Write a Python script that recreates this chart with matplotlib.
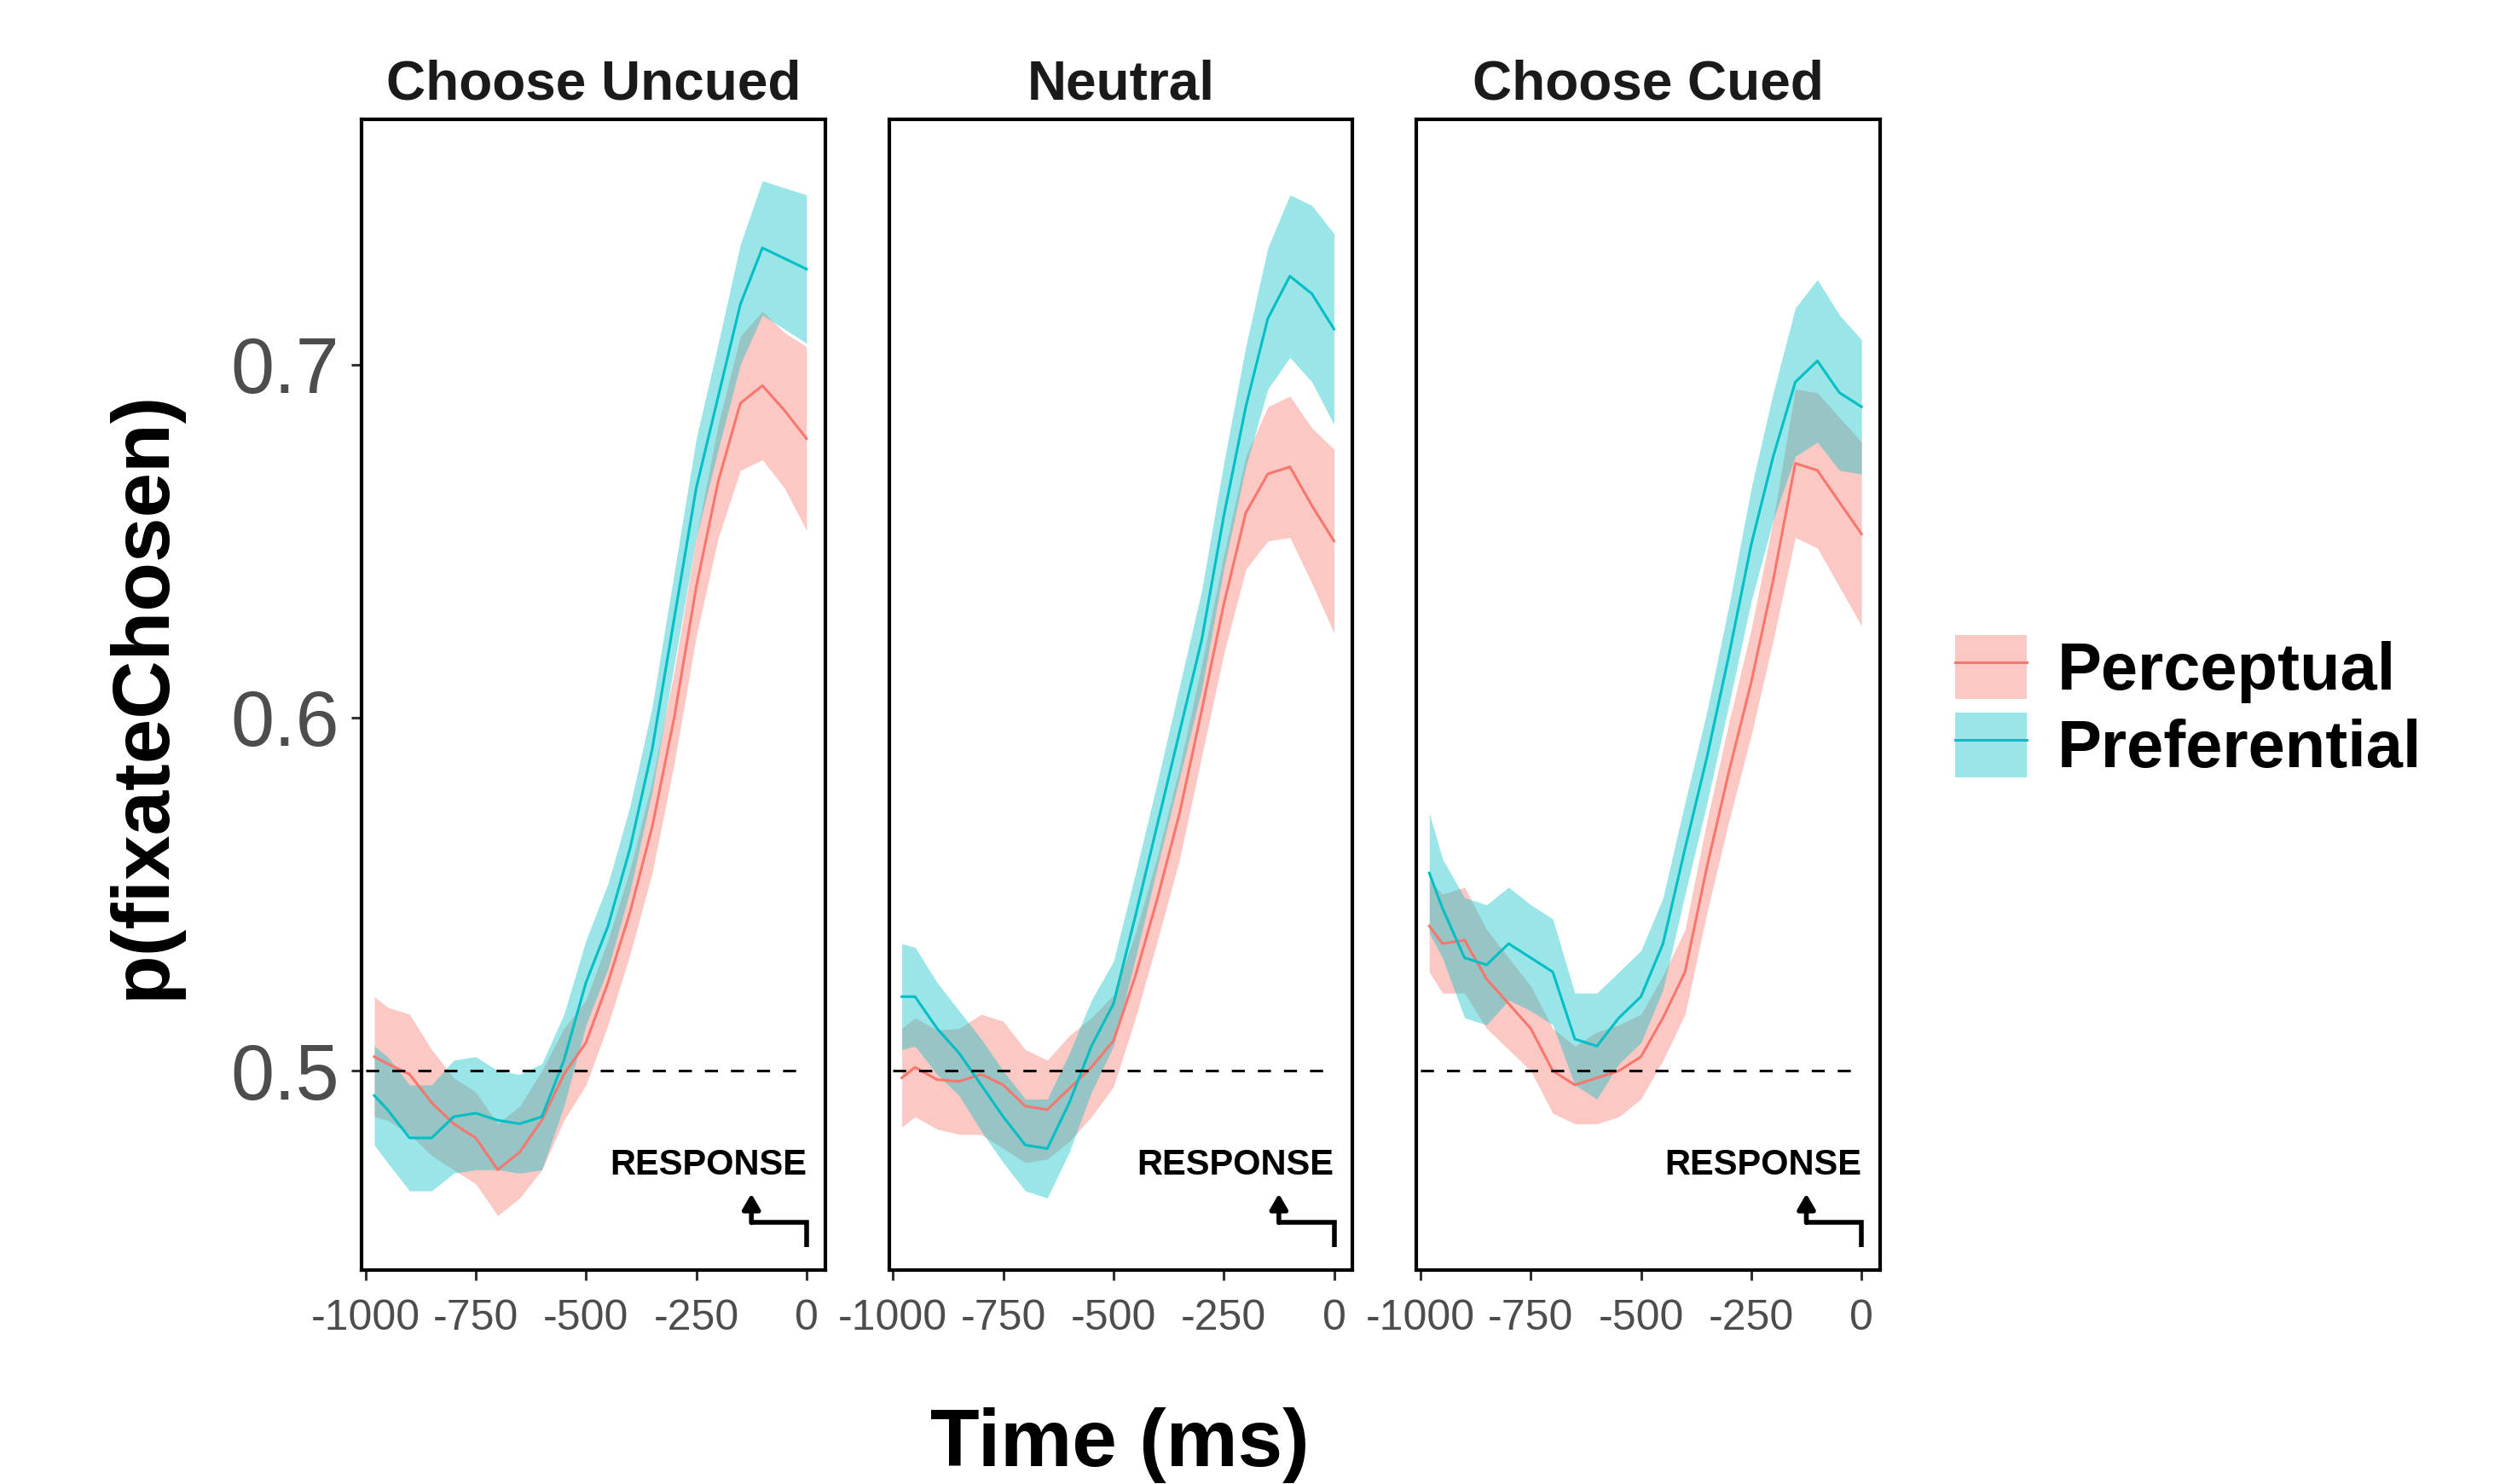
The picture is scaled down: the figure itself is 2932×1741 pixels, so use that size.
import numpy as np
import matplotlib
matplotlib.use("Agg")
import matplotlib.pyplot as plt
from matplotlib.patches import Patch
from matplotlib.lines import Line2D
from matplotlib.legend_handler import HandlerTuple

plt.rcParams['font.family'] = ['Liberation Sans', 'DejaVu Sans']

# time bins (ms before response)
times = [-980, -950, -900, -850, -800, -750, -700, -650, -600, -550, -500,
         -450, -400, -350, -300, -250, -200, -150, -100, -50, 0]

panel_titles = ['Choose Uncued', 'Neutral', 'Choose Cued']
series_names = ['Perceptual', 'Preferential']

# mean p(fixateChosen) and ribbon half-width, per panel
uncued_perc = [0.504, 0.502, 0.499, 0.491, 0.485, 0.481, 0.472, 0.477, 0.486, 0.499, 0.508,
               0.525, 0.545, 0.569, 0.600, 0.637, 0.667, 0.689, 0.694, 0.687, 0.679]
uncued_perc_ci = [0.017, 0.016, 0.017, 0.015, 0.013, 0.013, 0.013, 0.013, 0.014, 0.013, 0.012,
                  0.012, 0.012, 0.013, 0.013, 0.014, 0.016, 0.019, 0.021, 0.022, 0.026]
uncued_pref = [0.493, 0.489, 0.481, 0.481, 0.487, 0.488, 0.486, 0.485, 0.487, 0.503, 0.525,
               0.541, 0.563, 0.591, 0.628, 0.665, 0.691, 0.717, 0.733, 0.730, 0.727]
uncued_pref_ci = [0.014, 0.015, 0.015, 0.015, 0.016, 0.016, 0.014, 0.014, 0.015, 0.013, 0.012,
                  0.012, 0.012, 0.012, 0.013, 0.014, 0.015, 0.017, 0.019, 0.020, 0.021]

neutral_perc = [0.498, 0.501, 0.4975, 0.497, 0.499, 0.496, 0.490, 0.489, 0.495, 0.501, 0.5085,
                0.527, 0.549, 0.573, 0.602, 0.632, 0.658, 0.669, 0.671, 0.660, 0.650]
neutral_perc_ci = [0.014, 0.014, 0.014, 0.015, 0.017, 0.018, 0.016, 0.014, 0.015, 0.014, 0.013,
                   0.012, 0.012, 0.013, 0.013, 0.014, 0.016, 0.019, 0.020, 0.022, 0.026]
neutral_pref = [0.521, 0.521, 0.512, 0.505, 0.496, 0.487, 0.479, 0.478, 0.491, 0.507, 0.519,
                0.544, 0.570, 0.596, 0.622, 0.657, 0.688, 0.713, 0.725, 0.720, 0.710]
neutral_pref_ci = [0.015, 0.014, 0.013, 0.012, 0.013, 0.013, 0.013, 0.014, 0.014, 0.013, 0.012,
                   0.012, 0.012, 0.013, 0.014, 0.015, 0.017, 0.020, 0.023, 0.025, 0.027]

cued_perc = [0.541, 0.536, 0.537, 0.526, 0.519, 0.512, 0.500, 0.496, 0.498, 0.500, 0.504,
             0.515, 0.528, 0.558, 0.585, 0.610, 0.639, 0.672, 0.670, 0.661, 0.652]
cued_perc_ci = [0.013, 0.014, 0.015, 0.014, 0.013, 0.012, 0.012, 0.011, 0.013, 0.013, 0.012,
                0.012, 0.012, 0.013, 0.014, 0.015, 0.017, 0.021, 0.022, 0.024, 0.026]
cued_pref = [0.556, 0.546, 0.532, 0.530, 0.536, 0.532, 0.528, 0.509, 0.507, 0.515, 0.521,
             0.536, 0.563, 0.589, 0.618, 0.649, 0.674, 0.695, 0.701, 0.692, 0.688]
cued_pref_ci = [0.017, 0.014, 0.017, 0.017, 0.016, 0.015, 0.015, 0.013, 0.015, 0.013, 0.013,
                0.013, 0.013, 0.013, 0.014, 0.016, 0.018, 0.021, 0.023, 0.022, 0.019]

x_ticks = [-1000, -750, -500, -250, 0]
y_ticks = [0.5, 0.6, 0.7]

colors = ['#F8766D', '#00BFC4']

# response marker (data coords)
resp_text_y = 0.4733
resp_arrow_x = -125
resp_arrow_base = 0.450
resp_arrow_elbow = 0.457
resp_arrow_tip = 0.4652

panels = [
    [(uncued_perc, uncued_perc_ci), (uncued_pref, uncued_pref_ci)],
    [(neutral_perc, neutral_perc_ci), (neutral_pref, neutral_pref_ci)],
    [(cued_perc, cued_perc_ci), (cued_pref, cued_pref_ci)],
]


def draw_panel(ax, series, title, first):
    t = np.array(times)
    for (mean, ci), c in zip(series, colors):
        m = np.array(mean)
        h = np.array(ci)
        ax.fill_between(t, m - h, m + h, color=c, alpha=0.4, linewidth=0)
    for (mean, ci), c in zip(series, colors):
        ax.plot(t, mean, color=c, linewidth=1.1)

    ax.hlines(0.5, -1000, 0, colors='black', linestyles=(0, (5, 5)), linewidth=1.1)

    ax.text(0, resp_text_y, 'RESPONSE', ha='right', va='center',
            fontsize=15, fontweight='bold', color='black')
    ax.plot([0, 0, resp_arrow_x], [resp_arrow_base, resp_arrow_elbow, resp_arrow_elbow],
            color='black', linewidth=2, solid_joinstyle='miter', solid_capstyle='butt')
    ax.annotate('', xy=(resp_arrow_x, resp_arrow_tip), xytext=(resp_arrow_x, resp_arrow_elbow),
                arrowprops=dict(arrowstyle='-|>,head_length=0.38,head_width=0.22',
                                color='black', lw=2, shrinkA=0, shrinkB=0, mutation_scale=14))

    ax.set_xlim(-1009, 42)
    ax.set_ylim(0.4436, 0.7694)
    ax.set_xticks(x_ticks, labels=[str(v) for v in x_ticks])
    ax.set_yticks(y_ticks, labels=[f'{v:.1f}' for v in y_ticks])
    ax.set_title(title, fontsize=23, fontweight='bold', color='#1A1A1A', pad=8.5)

    for s in ax.spines.values():
        s.set_linewidth(1.5)
        s.set_color('black')
    ax.tick_params(axis='x', length=4.3, width=1.1, color='#333333', pad=8,
                   labelsize=18, labelcolor='#4D4D4D')
    ax.tick_params(axis='y', length=4.3, width=1.1, color='#333333', pad=5,
                   labelsize=33, labelcolor='#4D4D4D')
    if not first:
        ax.tick_params(axis='y', left=False, labelleft=False)


fig, axes = plt.subplots(1, 3, figsize=(14.66, 8.705), dpi=200, sharey=True)
plt.subplots_adjust(left=0.1446, right=0.752, bottom=0.1442, top=0.9196, wspace=0.138)

for i, ax in enumerate(axes):
    draw_panel(ax, panels[i], panel_titles[i], i == 0)

fig.text(0.0575, 0.532, 'p(fixateChosen)', rotation=90, ha='center', va='center',
         fontsize=34, fontweight='bold', color='black')
fig.text(0.448, 0.026, 'Time (ms)', ha='center', va='center',
         fontsize=34, fontweight='bold', color='black')

handles = [(Patch(facecolor=c, alpha=0.4, edgecolor='none'), Line2D([], [], color=c, linewidth=1.1))
           for c in colors]
fig.legend(handles=handles, labels=series_names, handler_map={tuple: HandlerTuple(ndivide=1)},
           loc='center left', bbox_to_anchor=(0.782, 0.523), frameon=False,
           prop=dict(family='Liberation Sans', weight='bold', size=28),
           handlelength=1.08, handleheight=1.12, handletextpad=0.46,
           labelspacing=0.14, borderpad=0, borderaxespad=0)

fig.savefig('out.png', dpi=200, facecolor='white')
